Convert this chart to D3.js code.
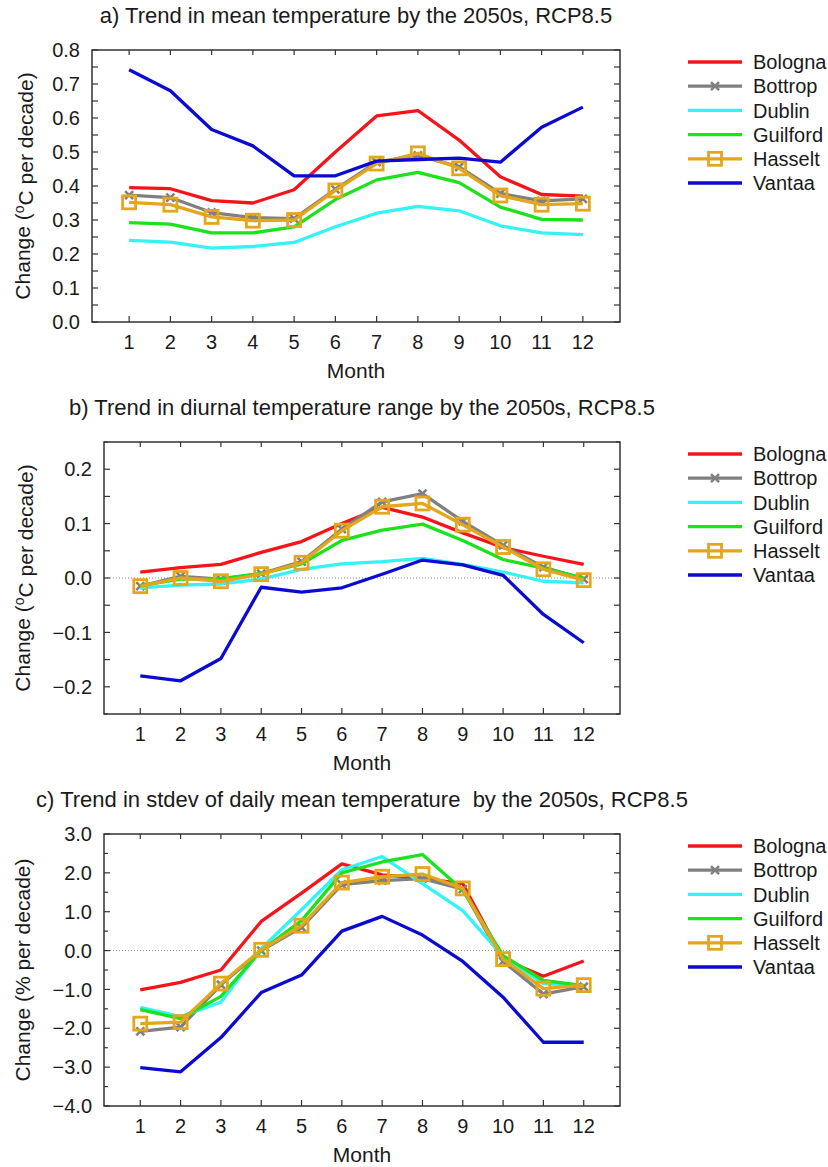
<!DOCTYPE html>
<html>
<head>
<meta charset="utf-8">
<script src="https://cdn.jsdelivr.net/npm/d3@7"></script>
<style>
    body { margin: 0; background: #fff; }
    text { font-family: "Liberation Sans", Arial, sans-serif; fill: #1a1a1a; }
</style>
</head>
<body>
<svg id="chart" width="828" height="1167"></svg>
<script>
// data
const months = [1, 2, 3, 4, 5, 6, 7, 8, 9, 10, 11, 12];
const cities = ["Bologna", "Bottrop", "Dublin", "Guilford", "Hasselt", "Vantaa"];

// a) mean temperature trend, degC per decade (rows follow cities)
const meanTemp = [
    [0.395, 0.392, 0.357, 0.350, 0.389, 0.500, 0.606, 0.622, 0.535, 0.427, 0.375, 0.370],
    [0.373, 0.366, 0.322, 0.307, 0.304, 0.390, 0.470, 0.490, 0.456, 0.378, 0.356, 0.362],
    [0.240, 0.235, 0.217, 0.222, 0.234, 0.280, 0.320, 0.340, 0.327, 0.283, 0.262, 0.257],
    [0.292, 0.288, 0.262, 0.262, 0.280, 0.360, 0.418, 0.440, 0.410, 0.338, 0.302, 0.300],
    [0.352, 0.345, 0.309, 0.298, 0.300, 0.387, 0.466, 0.496, 0.452, 0.372, 0.345, 0.348],
    [0.742, 0.680, 0.566, 0.518, 0.430, 0.430, 0.473, 0.478, 0.482, 0.470, 0.573, 0.632]
];
// b) diurnal temperature range trend, degC per decade
const dtrTemp = [
    [0.011, 0.019, 0.025, 0.047, 0.067, 0.100, 0.130, 0.112, 0.083, 0.056, 0.040, 0.025],
    [-0.015, 0.003, -0.002, 0.008, 0.030, 0.090, 0.140, 0.155, 0.104, 0.060, 0.020, -0.002],
    [-0.018, -0.013, -0.011, -0.002, 0.016, 0.026, 0.030, 0.036, 0.025, 0.011, -0.006, -0.009],
    [-0.014, -0.002, -0.001, 0.008, 0.026, 0.069, 0.088, 0.099, 0.069, 0.034, 0.018, 0.000],
    [-0.015, 0.000, -0.006, 0.007, 0.028, 0.087, 0.131, 0.137, 0.098, 0.057, 0.016, -0.004],
    [-0.180, -0.189, -0.148, -0.017, -0.026, -0.018, 0.007, 0.033, 0.024, 0.005, -0.067, -0.119]
];
// c) stdev of daily mean temperature trend, % per decade
const stdevTemp = [
    [-1.01, -0.82, -0.50, 0.75, 1.48, 2.23, 1.95, 1.86, 1.72, -0.22, -0.66, -0.27],
    [-2.08, -1.97, -0.88, 0.00, 0.60, 1.70, 1.80, 1.85, 1.58, -0.28, -1.12, -0.93],
    [-1.46, -1.70, -1.33, 0.05, 1.05, 2.08, 2.42, 1.72, 1.03, -0.15, -0.85, -0.92],
    [-1.52, -1.75, -1.18, 0.00, 0.77, 2.00, 2.28, 2.47, 1.55, -0.13, -0.77, -0.90],
    [-1.88, -1.84, -0.85, 0.02, 0.64, 1.75, 1.90, 1.97, 1.60, -0.22, -0.98, -0.89],
    [-3.01, -3.12, -2.24, -1.08, -0.63, 0.50, 0.88, 0.40, -0.28, -1.20, -2.36, -2.36]
];

const meanTicks = [0, 0.1, 0.2, 0.3, 0.4, 0.5, 0.6, 0.7, 0.8];
const dtrTicks = [-0.2, -0.1, 0, 0.1, 0.2];
const stdevTicks = [-4, -3, -2, -1, 0, 1, 2, 3];

// styles
const colors = {
    Bologna: "#f5141a",
    Bottrop: "#808080",
    Dublin: "#33f3f6",
    Guilford: "#1be21b",
    Hasselt: "#e3a61c",
    Vantaa: "#0a0ad2"
};

const panels = [
    {
        title: "a) Trend in mean temperature by the 2050s, RCP8.5",
        values: meanTemp, ticks: meanTicks, domain: [0, 0.8], minorStep: 0.05,
        unit: "C", left: 92, top: 50, zero: false
    },
    {
        title: "b) Trend in diurnal temperature range by the 2050s, RCP8.5",
        values: dtrTemp, ticks: dtrTicks, domain: [-0.25, 0.25], minorStep: 0.05,
        unit: "C", left: 104, top: 442, zero: true
    },
    {
        title: "c) Trend in stdev of daily mean temperature\u00a0 by the 2050s, RCP8.5",
        values: stdevTemp, ticks: stdevTicks, domain: [-4, 3], minorStep: 0.5,
        unit: "%", left: 104, top: 834, zero: true
    }
];

const svg = d3.select("#chart");
const right = 620,
    plotHeight = 272,
    fmt = d3.format(".1f");

// markers for Bottrop (crosses) and Hasselt (open squares)
const drawMarkers = (g, city, pts) => {
    if (city == "Bottrop") {
        g.append("g").selectAll("path")
            .data(pts)
            .join("path")
            .attr("d", d => "M" + (d[0] - 4) + "," + (d[1] - 4) + "L" + (d[0] + 4) + "," + (d[1] + 4) +
                "M" + (d[0] - 4) + "," + (d[1] + 4) + "L" + (d[0] + 4) + "," + (d[1] - 4))
            .attr("stroke", colors[city])
            .attr("stroke-width", 2.6);
    } else if (city == "Hasselt") {
        g.append("g").selectAll("rect")
            .data(pts)
            .join("rect")
            .attr("x", d => d[0] - 6.5)
            .attr("y", d => d[1] - 6.5)
            .attr("width", 13)
            .attr("height", 13)
            .attr("fill", "none")
            .attr("stroke", colors[city])
            .attr("stroke-width", 2.8);
    }
};

// draw one panel
const drawPanel = (p) => {
    const g = svg.append("g");
    const bottom = p.top + plotHeight;

    const x = d3.scaleLinear().domain([0.1, 12.9]).range([p.left, right]);
    const y = d3.scaleLinear().domain(p.domain).range([bottom, p.top]);

    // title
    g.append("text")
        .attr("x", (p.left + right) / 2)
        .attr("y", p.top - 27)
        .attr("text-anchor", "middle")
        .style("font-size", "22px")
        .text(p.title);

    // zero line
    if (p.zero) {
        g.append("line")
            .attr("x1", p.left).attr("x2", right)
            .attr("y1", y(0)).attr("y2", y(0))
            .attr("stroke", "#8a8a8a")
            .attr("stroke-width", 1)
            .attr("stroke-dasharray", "1,2");
    }

    // inward ticks on all four sides
    const minors = d3.range(p.domain[0], p.domain[1] + 1e-9, p.minorStep);
    const majorSet = p.ticks.map(t => fmt(t));
    const tickG = g.append("g").attr("stroke", "#333").attr("stroke-width", 1.2);
    minors.forEach(v => {
        const isMajor = majorSet.includes(fmt(v));
        const len = isMajor ? 6 : 4;
        tickG.append("line")
            .attr("x1", p.left).attr("x2", p.left + len)
            .attr("y1", y(v)).attr("y2", y(v));
        tickG.append("line")
            .attr("x1", right).attr("x2", right - len)
            .attr("y1", y(v)).attr("y2", y(v));
    });
    months.forEach(m => {
        tickG.append("line")
            .attr("x1", x(m)).attr("x2", x(m))
            .attr("y1", bottom).attr("y2", bottom - 6);
        tickG.append("line")
            .attr("x1", x(m)).attr("x2", x(m))
            .attr("y1", p.top).attr("y2", p.top + 5);
    });

    // tick labels
    g.append("g").selectAll("text")
        .data(p.ticks)
        .join("text")
        .attr("x", p.left - 12)
        .attr("y", d => y(d))
        .attr("dy", "0.36em")
        .attr("text-anchor", "end")
        .style("font-size", "20px")
        .text(d => fmt(d));

    g.append("g").selectAll("text")
        .data(months)
        .join("text")
        .attr("x", d => x(d))
        .attr("y", bottom + 27)
        .attr("text-anchor", "middle")
        .style("font-size", "20px")
        .text(d => d);

    // axis titles
    g.append("text")
        .attr("x", (p.left + right) / 2)
        .attr("y", bottom + 56)
        .attr("text-anchor", "middle")
        .style("font-size", "21px")
        .text("Month");

    const ylab = g.append("text")
        .attr("transform", "translate(30," + (p.top + plotHeight / 2) + ") rotate(-90)")
        .attr("text-anchor", "middle")
        .style("font-size", "21px");
    if (p.unit == "C") {
        ylab.append("tspan").text("Change (");
        ylab.append("tspan").attr("dy", "-0.45em").style("font-size", "14px").text("o");
        ylab.append("tspan").attr("dy", "0.45em").text("C per decade)");
    } else {
        ylab.text("Change (% per decade)");
    }

    // series
    const line = d3.line()
        .x((d, i) => x(months[i]))
        .y(d => y(d));

    cities.forEach((c, ci) => {
        const vals = p.values[ci];
        g.append("path")
            .datum(vals)
            .attr("fill", "none")
            .attr("stroke", colors[c])
            .attr("stroke-width", 3.3)
            .attr("stroke-linejoin", "round")
            .attr("d", line);
        drawMarkers(g, c, vals.map((v, i) => [x(months[i]), y(v)]));
    });

    // frame
    g.append("rect")
        .attr("x", p.left).attr("y", p.top)
        .attr("width", right - p.left).attr("height", plotHeight)
        .attr("fill", "none")
        .attr("stroke", "#333")
        .attr("stroke-width", 1.5);

    // legend
    const lg = g.append("g");
    cities.forEach((c, i) => {
        const ly = p.top + 12 + i * 24.2;
        lg.append("line")
            .attr("x1", 688).attr("x2", 742)
            .attr("y1", ly).attr("y2", ly)
            .attr("stroke", colors[c])
            .attr("stroke-width", 3.3);
        drawMarkers(lg, c, [[715, ly]]);
        lg.append("text")
            .attr("x", 753)
            .attr("y", ly)
            .attr("dy", "0.36em")
            .style("font-size", "20px")
            .text(c);
    });
};

panels.forEach(drawPanel);
</script>
</body>
</html>
